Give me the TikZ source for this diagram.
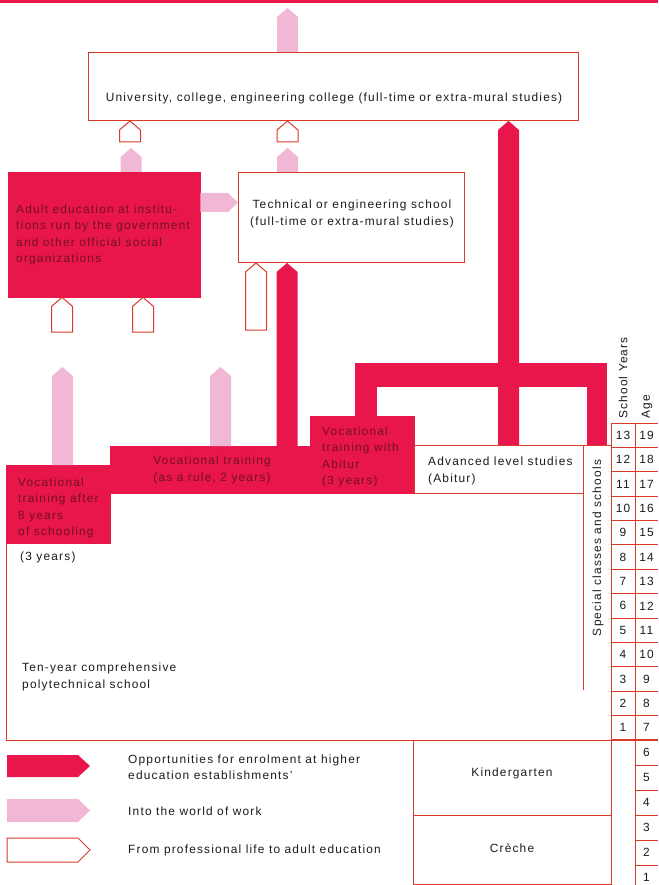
\documentclass[tikz,border=0pt]{standalone}
\usepackage{fontspec}
\setmainfont{Liberation Sans}[LetterSpace=10]
\usepackage{xcolor}
\usepackage{tikz}
\usetikzlibrary{calc}
\definecolor{eduRed}{RGB}{232,22,74}
\definecolor{eduPink}{RGB}{240,184,212}
\definecolor{eduLine}{RGB}{218,58,40}
\definecolor{eduInk}{RGB}{115,16,32}
\definecolor{eduText}{RGB}{30,26,26}
\newcommand{\eduFont}{\fontsize{11.9}{16.5}\selectfont}
\tikzset{%
  thinline/.style={draw=eduLine, line width=1pt},
  redbox/.style={fill=eduRed, draw=eduRed, inner sep=0pt, anchor=north west},
  whitebox/.style={fill=white, draw=eduLine, line width=1pt, inner sep=0pt, anchor=north west},
  redarrow/.style={fill=eduRed},
  pinkarrow/.style={fill=eduPink},
  openarrow/.style={fill=white, draw=eduLine, line width=1pt},
  txt/.style={text=eduText, font=\eduFont, inner sep=0pt},
  inktxt/.style={text=eduInk, font=\eduFont, inner sep=0pt, align=left},
}
% upward block arrow: style, x centre, base, tip
\newcommand{\eduup}[4]{%
  \path[#1] let \p1=(#3), \p2=(#4) in
    ({#2pt-10.5pt},\y1) -- ({#2pt-10.5pt},{\y2-9pt}) -- (#2pt,\y2)
    -- ({#2pt+10.5pt},{\y2-9pt}) -- ({#2pt+10.5pt},\y1) -- cycle;}

\begin{document}
\begin{tikzpicture}[x=1pt,y=-1pt]
\useasboundingbox (0,0) rectangle (658,885);
\fill[eduRed] (0,0) rectangle (658,3);

% boxes
\node[whitebox, minimum width=490pt, minimum height=68pt] (uni) at (88,52) {};
\node[txt] (unitext) at (334,98) {University, college, engineering college (full-time or extra-mural studies)};
\node[redbox, minimum width=192pt, minimum height=125pt] (adult) at (8,172) {};
\node[inktxt, anchor=west] (adulttext) at (16,235) {Adult education at institu-\\tions run by the government\\and other official social\\organizations};
\node[whitebox, minimum width=226pt, minimum height=90pt] (tech) at (238,172) {};
\node[txt, align=center] (techtext) at (352,214) {Technical or engineering school\\(full-time or extra-mural studies)};

\draw[thinline] (6,543) -- (6,740) -- (658,740);
\node[redbox, minimum width=104pt, minimum height=78pt] (voceight) at (6,465) {};
\node[redbox, minimum width=200pt, minimum height=47pt] (voctwo) at (110,446) {};
\node[redbox, minimum width=104pt, minimum height=77pt] (vocabi) at (310,416) {};
\node[inktxt, anchor=west] (voceighttext) at (18,508) {Vocational\\training after\\8 years\\of schooling};
\node[inktxt, align=center] (voctwotext) at (212,470) {Vocational training\\(as a rule, 2 years)};
\node[inktxt, anchor=west] (vocabitext) at (322,457) {Vocational\\training with\\Abitur\\(3 years)};
\node[whitebox, minimum width=169pt, minimum height=48pt] (adv) at (414,445) {};
\node[txt, anchor=west, align=left] (advtext) at (428,471) {Advanced level studies\\(Abitur)};
\node[txt, anchor=west] (threeyears) at (20,557) {(3 years)};
\node[txt, anchor=west, align=left] (tenyear) at (22,677) {Ten-year comprehensive\\polytechnical school};

\draw[thinline] (583,690) -- (583,445) -- (611,445);
\node[txt, rotate=90] (special) at (598,548) {Special classes and schools};

% arrows
\coordinate (toptip) at (287.5,8);
\coordinate (uniopenA) at (130,142);
\coordinate (uniopenB) at (287.5,142);
\coordinate (pinktipA) at (131,148);
\coordinate (pinktipB) at (287.5,148);
\coordinate (adultopenA) at (62,332);
\coordinate (adultopenB) at (143,332);
\coordinate (techopen) at (256,330);
\coordinate (worktipA) at (62.5,367);
\coordinate (worktipB) at (220.5,367);
\eduup{pinkarrow}{287.5}{uni.north}{toptip}
\eduup{openarrow}{130}{uniopenA}{uni.south}
\eduup{openarrow}{287.5}{uniopenB}{uni.south}
\eduup{pinkarrow}{131}{adult.north}{pinktipA}
\eduup{pinkarrow}{287.5}{tech.north}{pinktipB}
\path[pinkarrow] let \p1=(adult.east), \p2=(tech.west) in
  (\x1,-193pt) -- (\x2-10pt,-193pt) -- (\x2,-202.5pt) -- (\x2-10pt,-212pt) -- (\x1,-212pt) -- cycle;
\eduup{openarrow}{62}{adultopenA}{adult.south}
\eduup{openarrow}{143}{adultopenB}{adult.south}
\eduup{openarrow}{256}{techopen}{tech.south}
\eduup{redarrow}{287}{voctwo.north}{tech.south}
\eduup{pinkarrow}{62.5}{voceight.north}{worktipA}
\eduup{pinkarrow}{220.5}{voctwo.north}{worktipB}
\fill[eduRed] (355,363) rectangle (607,387);
\fill[eduRed] (355,386) rectangle (377,0 |- vocabi.north);
\fill[eduRed] (587,386) rectangle (607,0 |- adv.north);
\eduup{redarrow}{508.5}{adv.north}{uni.south}

% school years and age
\draw[thinline] (611,423) -- (611,885);
\draw[thinline] (635,423) -- (635,885);
\draw[thinline] (611,423) -- (658,423);
\foreach \n [evaluate=\n as \yy using 423+(14-\n)*24.38, evaluate=\n as \age using int(\n+6)] in {1,...,13} {
  \draw[thinline] (611,\yy) -- (658,\yy);
  \node[txt] (sy\n) at (623,{\yy-12.2}) {\n};
  \node[txt] (age\age) at (646.5,{\yy-12.2}) {\age};
}
\foreach \a [evaluate=\a as \yy using 740+(7-\a)*25] in {1,...,6} {
  \draw[thinline] (635,\yy) -- (658,\yy);
  \node[txt] (age\a) at (646.5,{\yy-12.5}) {\a};
}
\node[txt, rotate=90, anchor=west] (schoolyears) at (623,419) {School Years};
\node[txt, rotate=90, anchor=west] (agehead) at (647,419) {Age};

% kindergarten, creche
\draw[thinline] (413,740) -- (413,885);
\draw[thinline] (413,815) -- (611,815);
\draw[thinline] (413,884.5) -- (611,884.5);
\node[txt] (kinder) at (512,773) {Kindergarten};
\node[txt] (creche) at (512,848) {Crèche};

% legend
\fill[eduRed] (7,755) -- (78,755) -- (90,766) -- (78,777) -- (7,777) -- cycle;
\fill[eduPink] (7,799) -- (78,799) -- (90,810.5) -- (78,822) -- (7,822) -- cycle;
\draw[openarrow] (7,838) -- (78,838) -- (90,850) -- (78,862) -- (7,862) -- cycle;
\node[txt, anchor=west, align=left] (legendred) at (128,767) {Opportunities for enrolment at higher\\education establishments'};
\node[txt, anchor=west] (legendpink) at (128,811) {Into the world of work};
\node[txt, anchor=west] (legendopen) at (128,850) {From professional life to adult education};
\end{tikzpicture}
\end{document}
